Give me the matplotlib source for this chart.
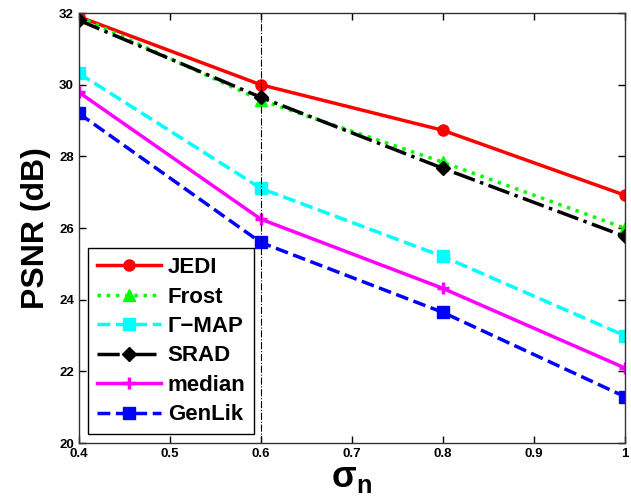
import matplotlib
matplotlib.use("Agg")
import matplotlib.pyplot as plt

plt.rcParams['font.family'] = ['Liberation Sans', 'DejaVu Sans']
plt.rcParams['font.weight'] = 'bold'
plt.rcParams['mathtext.fontset'] = 'custom'
plt.rcParams['mathtext.rm'] = 'Liberation Sans:bold'
plt.rcParams['mathtext.bf'] = 'Liberation Sans:bold'

sigma = [0.4, 0.6, 0.8, 1.0]
jedi = [31.9, 30.0, 28.73, 26.92]
frost = [31.9, 29.57, 27.84, 26.0]
gmap = [30.32, 27.11, 25.21, 23.0]
srad = [31.8, 29.65, 27.67, 25.77]
median = [29.79, 26.25, 24.32, 22.1]
genlik = [29.2, 25.6, 23.65, 21.3]

fig = plt.figure(figsize=(6.31, 5.03), dpi=100)
ax = fig.add_axes([0.125, 0.119, 0.865, 0.855])

ax.plot(sigma, jedi, '-', color='#ff0000', lw=2.5, marker='o', ms=8, label='JEDI')
ax.plot(sigma, frost, ':', color='#00ff00', lw=2.5, marker='^', ms=9, label='Frost')
ax.plot(sigma, gmap, '--', color='#00ffff', lw=2.5, marker='s', ms=8, label='Γ−MAP')
ax.plot(sigma, srad, '-.', color='black', lw=2.5, marker='D', ms=7, label='SRAD')
ax.plot(sigma, median, '-', color='#ff00ff', lw=2.5, marker='+', ms=9, mew=2.5, label='median')
ax.plot(sigma, genlik, '--', color='#0000ff', lw=2.5, marker='s', ms=8, label='GenLik')

# reference line at sigma = 0.6
ax.axvline(0.6, color='black', lw=0.8, ls='-.')

ax.set_xlim(0.4, 1.0)
ax.set_ylim(20, 32)
ax.set_xticks([0.4, 0.5, 0.6, 0.7, 0.8, 0.9, 1.0])
ax.set_xticklabels(['0.4', '0.5', '0.6', '0.7', '0.8', '0.9', '1'])
ax.set_yticks([20, 22, 24, 26, 28, 30, 32])
ax.tick_params(direction='in', top=True, right=True, labelsize=9.5, length=5, width=1)
for lab in ax.get_xticklabels() + ax.get_yticklabels():
    lab.set_fontweight('bold')
for s in ax.spines.values():
    s.set_linewidth(1.0)
    s.set_color('#333333')

ax.set_ylabel('PSNR (dB)', fontsize=23, fontweight='bold', labelpad=6)
ax.set_xlabel(r'$\mathbf{\sigma}_{\mathbf{n}}$', fontsize=26, labelpad=0)

leg = ax.legend(loc='lower left', fontsize=16, handlelength=2.9, handletextpad=0.3,
                fancybox=False, edgecolor='black', framealpha=1,
                borderaxespad=0.4, labelspacing=0.38, borderpad=0.4)
leg.get_frame().set_linewidth(1.0)

fig.savefig('out.png', dpi=100)
